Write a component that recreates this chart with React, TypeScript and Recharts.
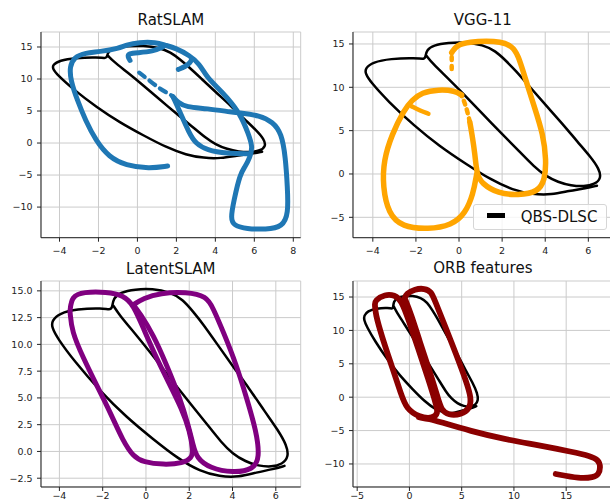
import React from 'react';
import { LineChart, Line, XAxis, YAxis, CartesianGrid } from 'recharts';

type Pt = [number, number];

// ---------- ground truth (QBS-DLSC) ----------
const groundTruth: Pt[] = [
  [-1.5, 13.6], [-1.25, 12.8], [-0.5, 11.0], [0.3, 9.0], [1.1, 6.9], [2.0, 4.6], [2.8, 2.6], [3.5, 0.8],
  [4.0, -0.2], [4.6, -0.95], [5.2, -1.35], [5.8, -1.45], [6.3, -1.2], [6.6, -0.5], [6.5, 0.6], [6.1, 2.0],
  [5.5, 3.7], [4.8, 5.8], [4.0, 8.0], [3.3, 10.0], [2.6, 12.0], [2.2, 13.0], [1.7, 14.2], [1.1, 14.9],
  [0.3, 15.2], [-0.5, 15.15], [-1.2, 14.85], [-1.5, 14.3], [-1.55, 13.6], [-1.6, 13.2], [-2.0, 13.4],
  [-3.2, 13.3], [-4.0, 12.9], [-4.35, 12.2], [-4.35, 11.6], [-4.1, 10.6], [-3.3, 8.4], [-2.1, 5.6],
  [-0.9, 3.2], [0.3, 1.2], [1.5, -0.7], [2.5, -1.85], [3.4, -2.35], [4.3, -2.4], [5.1, -1.95],
  [5.9, -1.65], [6.4, -1.35],
];

// ---------- RatSLAM ----------
const ratMainA: Pt[] = [
  [1.55, -3.6], [0.6, -4.0], [-0.6, -3.5], [-1.46, -2.2], [-2.14, 0.4], [-2.66, 3.5], [-3.09, 6.7],
  [-3.43, 9.8], [-3.48, 11.9], [-3.26, 13.4], [-2.66, 14.1], [-1.95, 14.25], [-0.94, 14.8], [-0.6, 15.3],
  [0.09, 15.75], [0.95, 15.75], [1.4, 15.3], [1.98, 14.8], [2.66, 13.7], [3.18, 12.4], [3.56, 10.3],
  [4.1, 8.7], [4.58, 7.2], [5.27, 4.6], [5.69, 1.5], [5.92, -0.6], [5.78, -2.2], [5.52, -3.75],
  [5.27, -4.8], [4.95, -8.95], [4.78, -11.8], [4.95, -12.9], [5.6, -13.4], [6.6, -13.5], [7.45, -13.1],
  [7.75, -11.0], [7.7, -6.9], [7.6, -2.2], [7.4, 1.5], [6.95, 3.3], [6.27, 4.3], [5.27, 4.7],
  [4.9, 4.8], [3.56, 5.4], [2.5, 5.6], [2.1, 6.3], [1.83, 7.2],
];
const ratMainB: Pt[] = [
  [1.83, 7.2], [2.15, 5.1], [2.66, 1.5], [3.0, -0.1], [3.56, -1.1], [4.58, -1.66], [5.78, -1.66],
];
const ratStub: Pt[] = [[1.3, 15.0], [0.8, 14.3], [0.0, 14.1], [-0.45, 14.0], [-0.5, 13.5], [-0.38, 12.9]];
const ratHook: Pt[] = [[2.1, 11.5], [2.45, 11.9], [2.72, 12.6], [2.8, 13.1]];
const ratDotted: Pt[] = [[0.09, 11.0], [0.6, 9.8], [1.2, 8.35], [1.63, 7.7], [1.85, 7.2]];

// ---------- VGG-11 ----------
const vggRight: Pt[] = [
  [-0.34, 14.0], [-0.1, 14.9], [0.5, 15.25], [1.3, 15.35], [1.9, 15.25], [2.45, 14.8], [2.75, 13.7],
  [3.05, 11.2], [3.5, 7.7], [3.9, 4.6], [4.05, 1.6], [3.98, -0.7], [3.67, -2.07], [2.74, -2.46],
  [1.82, -2.26], [1.05, -1.1], [0.82, 0.0], [0.74, 2.3], [0.6, 4.6], [0.5, 6.0],
];
const vggDotted: Pt[] = [[0.5, 6.0], [0.35, 7.6], [0.2, 8.6], [0.12, 9.1]];
const vggLeft: Pt[] = [
  [0.12, 9.1], [-0.18, 9.6], [-0.96, 9.75], [-1.73, 9.4], [-2.19, 8.5], [-2.55, 7.4], [-3.11, 4.6],
  [-3.5, 1.6], [-3.54, -1.5], [-3.27, -4.6], [-2.65, -6.1], [-1.42, -6.4], [-0.34, -5.9], [0.28, -4.6],
  [0.66, -2.3], [0.82, 0.0],
];
const vggHook: Pt[] = [[-2.2, 7.8], [-1.8, 7.3], [-1.42, 6.95]];
const vggTopDots: Pt[] = [[-0.34, 12.1], [-0.34, 14.0]];

// ---------- LatentSLAM ----------
const latentLeft: Pt[] = [
  [-3.51, 13.1], [-3.43, 14.5], [-2.89, 14.9], [-1.82, 14.9], [-1.05, 14.6], [-0.58, 13.7], [-0.12, 11.5],
  [0.49, 8.7], [1.11, 6.2], [1.65, 4.0], [2.03, 1.9], [2.18, 0.0], [2.11, -0.6], [1.72, -1.1], [0.8, -1.25],
  [-0.12, -1.0], [-0.58, -0.47], [-1.05, 0.93], [-1.66, 3.7], [-2.28, 6.2], [-2.89, 8.7], [-3.43, 11.2],
  [-3.51, 13.1],
];
const latentRight: Pt[] = [
  [-0.58, 13.7], [-0.12, 14.3], [0.65, 14.8], [1.88, 14.9], [2.8, 14.5], [3.1, 13.4], [3.57, 11.2],
  [4.18, 8.1], [4.65, 5.0], [5.1, 1.9], [5.26, -0.6], [4.95, -1.7], [4.03, -2.0], [2.95, -1.56],
  [2.34, -0.6], [2.18, 0.6], [1.95, 2.5], [1.57, 5.0], [0.95, 8.1], [0.34, 10.9], [-0.28, 12.9], [-0.58, 13.7],
];

// ---------- ORB features ----------
const orbLeft: Pt[] = [
  [-3.3, 13.8], [-3.3, 14.5], [-2.36, 15.4], [-1.4, 15.3], [-0.77, 14.5], [-0.13, 11.8], [0.83, 7.3],
  [1.79, 2.8], [2.58, -1.2], [2.74, -2.4], [2.26, -3.2], [0.9, -3.0], [-0.29, -1.7], [-0.77, 0.3],
  [-1.72, 4.8], [-2.68, 9.3], [-3.25, 12.5], [-3.3, 13.8],
];
const orbRight: Pt[] = [
  [-0.45, 14.8], [-0.29, 15.5], [0.51, 16.2], [1.47, 16.3], [2.1, 15.8], [2.42, 14.5], [3.38, 10.8],
  [4.5, 6.3], [5.45, 2.3], [5.93, -0.2], [5.77, -1.7], [4.98, -2.6], [3.7, -2.7], [3.06, -1.9],
  [2.74, -0.2], [1.95, 3.8], [0.99, 8.3], [0.19, 12.3], [-0.45, 14.8],
];
const orbTail: Pt[] = [
  [0.9, -3.0], [2.0, -3.3], [2.7, -3.6], [5.9, -5.1], [9.1, -6.3], [12.4, -7.2], [15.6, -8.2],
  [17.3, -8.8], [18.1, -9.4], [18.3, -10.5], [18.1, -11.6], [17.6, -12.0], [16.3, -12.2], [14.0, -11.5],
];

// ---------- axes ----------
const ratXTicks = [-4, -2, 0, 2, 4, 6, 8];
const ratYTicks = [-10, -5, 0, 5, 10, 15];
const vggXTicks = [-4, -2, 0, 2, 4, 6];
const vggYTicks = [-5, 0, 5, 10, 15];
const latentXTicks = [-4, -2, 0, 2, 4, 6];
const latentYTicks = [-2.5, 0, 2.5, 5, 7.5, 10, 12.5, 15];
const orbXTicks = [-5, 0, 5, 10, 15];
const orbYTicks = [-10, -5, 0, 5, 10, 15];

const legendLabel = 'QBS-DLSC';

const toObj = (pts: Pt[]) => pts.map(([x, y]) => ({ x, y }));
const minus = (s: string) => s.replace('-', '\u2212');
const fmtInt = (v: number) => minus(String(v));
const fmt1 = (v: number) => minus(v.toFixed(1));

type Series = { data: Pt[]; color: string; width: number; dash?: string };

const FONT = '"DejaVu Sans", sans-serif';
const AX = '#222';

function Panel(props: {
  title: string; plotLeft: number; plotTop: number; plotW: number; plotH: number;
  xDomain: [number, number]; yDomain: [number, number]; xTicks: number[]; yTicks: number[];
  yFmt: (v: number) => string; series: Series[]; titleTop: number; xTickMargin: number;
}) {
  const { plotLeft, plotTop, plotW, plotH } = props;
  const yW = 40, mTop = 5, mRight = 12, xH = 30;
  const tickStyle = { fontSize: 9.5, fill: AX, fontFamily: FONT };
  return (
    <>
      <div style={{
        position: 'absolute', left: plotLeft, width: plotW, top: props.titleTop, height: 17,
        lineHeight: '17px', fontSize: 15, textAlign: 'center', color: '#111', fontFamily: FONT,
      }}>{props.title}</div>
      <div style={{ position: 'absolute', left: plotLeft - yW, top: plotTop - mTop }}>
        <LineChart width={yW + plotW + mRight} height={mTop + plotH + xH}
          margin={{ top: mTop, right: mRight, bottom: 0, left: 0 }}>
          <CartesianGrid stroke="#cbcbcb" strokeWidth={1} />
          <XAxis type="number" dataKey="x" domain={props.xDomain} ticks={props.xTicks} allowDataOverflow
            interval={0} tickSize={4} tickMargin={props.xTickMargin} height={xH} stroke={AX}
            tick={tickStyle} tickFormatter={fmtInt} />
          <XAxis xAxisId="top" orientation="top" type="number" dataKey="x" domain={props.xDomain}
            allowDataOverflow height={0} tick={false} tickLine={false} stroke={AX} />
          <YAxis type="number" dataKey="y" domain={props.yDomain} ticks={props.yTicks} allowDataOverflow
            interval={0} tickSize={4} tickMargin={4.5} width={yW} stroke={AX}
            tick={tickStyle} tickFormatter={props.yFmt} />
          <YAxis yAxisId="right" orientation="right" type="number" domain={props.yDomain}
            allowDataOverflow width={0} tick={false} tickLine={false} stroke={AX} />
          {props.series.map((s, i) => (
            <Line key={i} data={toObj(s.data)} dataKey="y" type="basis" stroke={s.color}
              strokeWidth={s.width} strokeDasharray={s.dash} dot={false} activeDot={false}
              isAnimationActive={false} strokeLinecap="round" strokeLinejoin="round" />
          ))}
        </LineChart>
      </div>
    </>
  );
}

const BLUE = '#1f77b4', ORANGE = '#ffa500', PURPLE = '#800080', DARKRED = '#8b0000';
const gt: Series = { data: groundTruth, color: '#000', width: 2.5 };

export default function App() {
  const LW = 259.7;
  return (
    <div style={{
      position: 'fixed', left: 0, top: 0, width: 610, height: 502, overflow: 'hidden',
      background: '#fff', fontFamily: FONT,
    }}>
      <Panel title="RatSLAM" plotLeft={41} plotTop={31.7} plotW={LW} plotH={205.7} titleTop={12.3}
        xDomain={[-4.95, 8.38]} yDomain={[-14.78, 17.34]} xTicks={ratXTicks} yTicks={ratYTicks}
        yFmt={fmtInt} xTickMargin={6}
        series={[gt,
          { data: ratMainA, color: BLUE, width: 5 },
          { data: ratMainB, color: BLUE, width: 5 },
          { data: ratStub, color: BLUE, width: 5 },
          { data: ratHook, color: BLUE, width: 5 },
          { data: ratDotted, color: BLUE, width: 4.2, dash: '7 6' },
        ]} />
      <Panel title="VGG-11" plotLeft={353} plotTop={31.7} plotW={LW} plotH={205.7} titleTop={12.3}
        xDomain={[-4.92, 7.13]} yDomain={[-7.35, 16.38]} xTicks={vggXTicks} yTicks={vggYTicks}
        yFmt={fmtInt} xTickMargin={6}
        series={[gt,
          { data: vggRight, color: ORANGE, width: 5.5 },
          { data: vggDotted, color: ORANGE, width: 4.5, dash: '4 5' },
          { data: vggLeft, color: ORANGE, width: 5.5 },
          { data: vggHook, color: ORANGE, width: 4.5 },
          { data: vggTopDots, color: ORANGE, width: 4.5, dash: '3 6' },
        ]} />
      <Panel title="LatentSLAM" plotLeft={41} plotTop={280.5} plotW={LW} plotH={206} titleTop={260.6}
        xDomain={[-4.85, 7.15]} yDomain={[-3.32, 15.92]} xTicks={latentXTicks} yTicks={latentYTicks}
        yFmt={fmt1} xTickMargin={1.5}
        series={[gt,
          { data: latentLeft, color: PURPLE, width: 5 },
          { data: latentRight, color: PURPLE, width: 5 },
        ]} />
      <Panel title="ORB features" plotLeft={353} plotTop={280.5} plotW={LW} plotH={206} titleTop={260.3}
        xDomain={[-5.4, 19.45]} yDomain={[-13.45, 17.4]} xTicks={orbXTicks} yTicks={orbYTicks}
        yFmt={fmtInt} xTickMargin={1.5}
        series={[gt,
          { data: orbLeft, color: DARKRED, width: 5.8 },
          { data: orbRight, color: DARKRED, width: 5.8 },
          { data: orbTail, color: DARKRED, width: 5.8 },
        ]} />
      <div style={{
        position: 'absolute', left: 472.7, top: 204.3, width: 134, height: 25.7, boxSizing: 'border-box',
        border: '1px solid #d6d6d6', borderRadius: 3, background: 'rgba(255,255,255,0.8)',
      }}>
        <div style={{ position: 'absolute', left: 13, top: 8, width: 18, height: 5, background: '#000' }} />
        <div style={{
          position: 'absolute', left: 47, top: 2, height: 20, lineHeight: '20px', fontSize: 15,
          color: '#111', fontFamily: FONT, whiteSpace: 'nowrap',
        }}>{legendLabel}</div>
      </div>
    </div>
  );
}
